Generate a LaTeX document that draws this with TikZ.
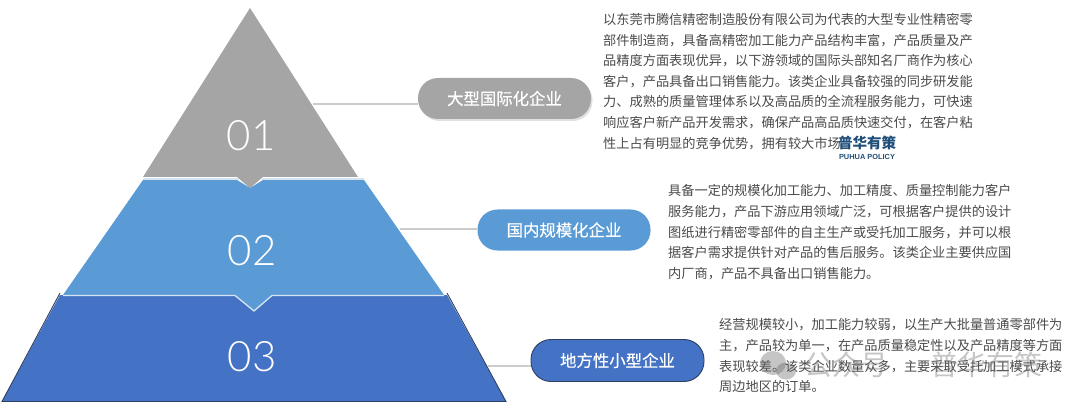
\documentclass[tikz,border=0pt]{standalone}
\usepackage{fontspec}
\setmainfont{Noto Sans CJK SC}
\newfontfamily\numfont{Lato Light}
\newfontfamily\latinfont{Liberation Sans}
\newfontfamily\pillfont[FakeBold=0.5]{Noto Sans CJK SC}
\usetikzlibrary{shadows}
\definecolor{tgray}{HTML}{A5A5A5}
\definecolor{tblue}{HTML}{5B9BD5}
\definecolor{tdark}{HTML}{4472C4}
\definecolor{tline}{HTML}{2F3F5F}
\definecolor{sepline}{HTML}{D6E4F2}
\definecolor{linkc}{HTML}{CCCCCC}
\definecolor{bodyc}{HTML}{4A4A4A}
\definecolor{logoc}{HTML}{1F4E79}
\tikzset{
  tiernum/.style={text=white,font=\numfont\fontsize{42}{42}\selectfont,inner sep=0pt},
  pill/.style={rounded corners=20pt,minimum width=173pt,minimum height=41pt,inner sep=0pt,text=white,
    font=\pillfont\fontsize{16.4}{18}\selectfont},
  pillshadow/.style={drop shadow={shadow xshift=1.5pt,shadow yshift=-2pt,opacity=.12,fill=black}},
  link/.style={draw=linkc,line width=1.2pt},
  body/.style={anchor=north west,align=left,inner sep=0pt,text=bodyc,
    font=\fontsize{13.2}{20.6}\selectfont},
  wmark/.style={inner sep=0pt,text=black!60,opacity=.38,font=\fontsize{28}{28}\selectfont}
}
\begin{document}
\begin{tikzpicture}[x=1pt,y=-1pt]
\useasboundingbox (0,0) rectangle (1080,409);
% tiers
\fill[tgray] (250,8) -- (358,177) -- (263,177) -- (250,188) -- (237,177) -- (143,177) -- cycle;
\fill[tdark] (60,295) -- (447,295) -- (506,401.5) -- (2,401.5) -- cycle;
\draw[tline,line width=.9pt] (60,293) -- (2,401.5) -- (506,401.5) -- (447,293);
\fill[tblue] (143,180) -- (237,180) -- (250,188) -- (263,180) -- (364,180) -- (444,295) -- (272,295) -- (254,311) -- (235,295) -- (63,295) -- cycle;
\fill[tgray] (237,176) -- (263,176) -- (250,188) -- cycle;
\draw[sepline,line width=1.5pt] (143,179) -- (239,179);
\draw[sepline,line width=1.5pt] (262,179) -- (364,179);
\draw[sepline,line width=1.3pt] (63,295.5) -- (235,295.5) -- (254,311) -- (272,295.5) -- (444,295.5);
% numbers
\node[tiernum] (n1) at (251,136) {01};
\node[tiernum] (n2) at (252,251) {02};
\node[tiernum] (n3) at (252,357) {03};
% free connector ends on the tier edges
\coordinate (e1) at (313,104);
\coordinate (e2) at (400,229);
\coordinate (e3) at (488,366);
% pills
\node[pill,pillshadow,fill=tgray] (p1) at (504.5,98.5) {大型国际化企业};
\node[pill,fill=tblue] (p2) at (564,230) {国内规模化企业};
\node[pill,draw=tline,line width=.9pt,fill=tdark,minimum height=42pt] (p3) at (617.5,360.5) {地方性小型企业};
\draw[link] (e1) -- (e1 -| p1.west);
\draw[link] (e2) -- (e2 -| p2.west);
\draw[link] (e3) -- (e3 -| p3.west);
% body text
\node[body] (t1) at (603,13) {以东莞市腾信精密制造股份有限公司为代表的大型专业性精密零\\
部件制造商，具备高精密加工能力产品结构丰富，产品质量及产\\
品精度方面表现优异，以下游领域的国际头部知名厂商作为核心\\
客户，产品具备出口销售能力。该类企业具备较强的同步研发能\\
力、成熟的质量管理体系以及高品质的全流程服务能力，可快速\\
响应客户新产品开发需求，确保产品高品质快速交付，在客户粘\\
性上占有明显的竞争优势，拥有较大市场};
\node[body] (t2) at (668,184.5) {具备一定的规模化加工能力、加工精度、质量控制能力客户\\
服务能力，产品下游应用领域广泛，可根据客户提供的设计\\
图纸进行精密零部件的自主生产或受托加工服务，并可以根\\
据客户需求提供针对产品的售后服务。该类企业主要供应国\\
内厂商，产品不具备出口销售能力。};
\node[body] (t3) at (719,318.5) {经营规模较小，加工能力较弱，以生产大批量普通零部件为\\
主，产品较为单一，在产品质量稳定性以及产品精度等方面\\
表现较差。该类企业数量众多，主要采取受托加工模式承接\\
周边地区的订单。};
% logo
\node[inner sep=0pt,text=logoc,font=\bfseries\fontsize{14.5}{15}\selectfont] (logo) at (867,142.5) {普华有策};
\node[inner sep=0pt,text=logoc,font=\latinfont\bfseries\fontsize{7.4}{9}\selectfont] (logoen) at (867,156.5) {PUHUA POLICY};
% watermark
\fill[black!60,opacity=.38] (773,363) ellipse (13pt and 12pt);
\fill[black!60,opacity=.38] (786,371) ellipse (10pt and 8.5pt);
\node[wmark] (w1) at (846,365) {公众号};
\node[wmark] (w3) at (986,365) {普华有策};
\end{tikzpicture}
\end{document}
